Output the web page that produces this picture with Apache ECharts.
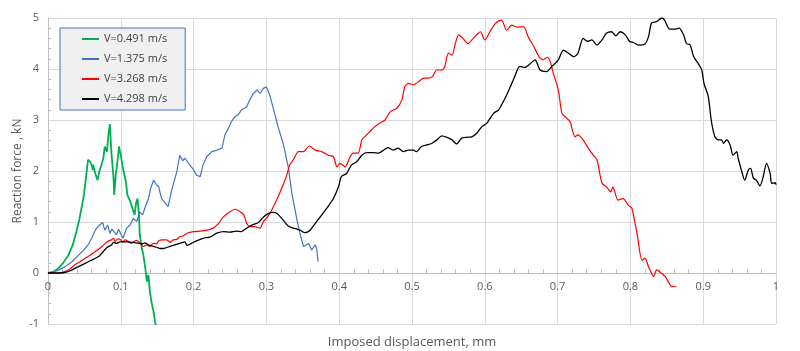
<!DOCTYPE html>
<html>
<head>
<meta charset="utf-8">
<script src="https://cdn.jsdelivr.net/npm/echarts@6/dist/echarts.min.js"></script>
<style>
  html, body { margin: 0; padding: 0; background: #fff; }
  #chart { width: 800px; height: 351px; }
</style>
</head>
<body>
<div id="chart"></div>
<script>
// series names (legend)
const seriesNames = ['V=0.491 m/s', 'V=1.375 m/s', 'V=3.268 m/s', 'V=4.298 m/s'];

// [displacement mm, force kN]
const v0491 = [[0,0],[0.007,0.02],[0.014,0.09],[0.021,0.2],[0.028,0.35],[0.034,0.55],[0.039,0.81],[0.043,1.05],[0.046,1.27],[0.049,1.5],[0.051,1.73],[0.053,1.98],[0.055,2.22],[0.058,2.18],[0.060,2.12],[0.0615,2.02],[0.062,2.12],[0.065,1.95],[0.068,1.82],[0.071,2.02],[0.073,2.1],[0.076,2.25],[0.078,2.48],[0.081,2.38],[0.083,2.71],[0.085,2.92],[0.087,2.38],[0.090,1.86],[0.091,1.53],[0.093,1.92],[0.096,2.25],[0.0975,2.48],[0.100,2.31],[0.103,2.05],[0.107,1.79],[0.109,1.53],[0.113,1.40],[0.116,1.27],[0.119,1.14],[0.121,1.37],[0.123,1.46],[0.125,1.14],[0.126,0.75],[0.129,0.48],[0.131,0.35],[0.133,0.16],[0.136,-0.17],[0.138,-0.04],[0.140,-0.37],[0.142,-0.56],[0.145,-0.76],[0.147,-0.95],[0.148,-1.02]];

const v1375 = [[0,0],[0.012,0.04],[0.023,0.12],[0.033,0.22],[0.042,0.35],[0.049,0.45],[0.055,0.55],[0.060,0.68],[0.065,0.84],[0.068,0.9],[0.071,0.94],[0.075,0.99],[0.078,0.84],[0.082,0.94],[0.085,0.78],[0.088,0.86],[0.090,0.84],[0.094,0.75],[0.097,0.86],[0.099,0.88],[0.103,0.68],[0.106,0.8],[0.108,0.88],[0.113,0.94],[0.117,1.07],[0.122,1.01],[0.126,1.20],[0.130,1.14],[0.133,1.27],[0.138,1.46],[0.141,1.66],[0.145,1.82],[0.149,1.73],[0.152,1.69],[0.156,1.46],[0.161,1.37],[0.165,1.30],[0.170,1.63],[0.177,1.99],[0.181,2.31],[0.185,2.2],[0.188,2.25],[0.193,2.15],[0.200,2.02],[0.204,1.92],[0.209,1.89],[0.213,2.12],[0.218,2.28],[0.225,2.38],[0.232,2.41],[0.239,2.45],[0.243,2.71],[0.248,2.84],[0.252,2.97],[0.257,3.07],[0.261,3.10],[0.266,3.20],[0.273,3.26],[0.277,3.39],[0.282,3.52],[0.287,3.59],[0.291,3.52],[0.296,3.62],[0.300,3.65],[0.305,3.47],[0.310,3.20],[0.316,2.87],[0.323,2.54],[0.330,2.08],[0.335,1.56],[0.342,1.04],[0.346,0.78],[0.351,0.52],[0.358,0.58],[0.362,0.45],[0.367,0.55],[0.369,0.48],[0.371,0.22]];

const v3268 = [[0,0],[0.012,0.0],[0.023,0.03],[0.030,0.08],[0.037,0.16],[0.044,0.22],[0.051,0.29],[0.058,0.35],[0.065,0.42],[0.070,0.47],[0.074,0.52],[0.081,0.61],[0.087,0.65],[0.090,0.68],[0.092,0.62],[0.095,0.66],[0.098,0.67],[0.103,0.61],[0.106,0.65],[0.110,0.62],[0.114,0.58],[0.117,0.60],[0.121,0.64],[0.124,0.62],[0.128,0.56],[0.131,0.52],[0.135,0.55],[0.140,0.52],[0.145,0.58],[0.149,0.57],[0.152,0.63],[0.157,0.65],[0.163,0.65],[0.168,0.6],[0.172,0.65],[0.177,0.66],[0.181,0.71],[0.186,0.73],[0.191,0.78],[0.200,0.81],[0.209,0.82],[0.218,0.84],[0.227,0.88],[0.234,0.97],[0.241,1.10],[0.250,1.20],[0.257,1.25],[0.264,1.20],[0.269,1.14],[0.273,0.97],[0.277,0.91],[0.284,0.91],[0.291,0.88],[0.296,1.01],[0.300,1.07],[0.305,1.17],[0.314,1.43],[0.321,1.66],[0.328,1.92],[0.332,2.12],[0.337,2.22],[0.344,2.38],[0.351,2.38],[0.359,2.49],[0.367,2.41],[0.376,2.38],[0.385,2.31],[0.392,2.28],[0.397,2.08],[0.401,2.15],[0.408,2.08],[0.415,2.28],[0.419,2.35],[0.426,2.35],[0.431,2.61],[0.435,2.67],[0.442,2.77],[0.449,2.87],[0.456,2.94],[0.463,3.00],[0.470,3.16],[0.479,3.23],[0.486,3.39],[0.490,3.65],[0.495,3.72],[0.502,3.69],[0.509,3.75],[0.516,3.82],[0.522,3.82],[0.528,3.85],[0.534,3.98],[0.541,3.98],[0.545,4.05],[0.550,4.31],[0.555,4.27],[0.559,4.47],[0.564,4.67],[0.570,4.60],[0.577,4.50],[0.584,4.60],[0.591,4.70],[0.594,4.73],[0.600,4.57],[0.607,4.73],[0.615,4.90],[0.623,4.96],[0.630,4.76],[0.637,4.86],[0.644,4.82],[0.653,4.83],[0.660,4.62],[0.667,4.45],[0.674,4.25],[0.680,4.18],[0.686,4.23],[0.690,4.14],[0.694,3.92],[0.701,3.59],[0.706,3.13],[0.713,3.03],[0.717,2.97],[0.724,2.67],[0.728,2.71],[0.735,2.61],[0.742,2.45],[0.749,2.31],[0.754,2.22],[0.761,1.76],[0.767,1.69],[0.773,1.59],[0.776,1.69],[0.783,1.43],[0.790,1.46],[0.797,1.33],[0.802,1.27],[0.809,0.78],[0.816,0.25],[0.820,0.29],[0.825,0.12],[0.832,-0.07],[0.836,0.06],[0.843,-0.01],[0.848,-0.07],[0.852,-0.17],[0.857,-0.27],[0.859,-0.26],[0.863,-0.27]];

const v4298 = [[0,0],[0.012,0.0],[0.023,0.01],[0.030,0.04],[0.037,0.09],[0.044,0.14],[0.051,0.19],[0.058,0.24],[0.065,0.29],[0.071,0.34],[0.074,0.39],[0.081,0.5],[0.087,0.55],[0.090,0.6],[0.094,0.58],[0.099,0.61],[0.108,0.61],[0.117,0.6],[0.126,0.58],[0.129,0.57],[0.133,0.59],[0.138,0.55],[0.145,0.52],[0.150,0.5],[0.154,0.48],[0.158,0.48],[0.163,0.50],[0.172,0.54],[0.181,0.58],[0.188,0.61],[0.191,0.54],[0.197,0.58],[0.204,0.63],[0.213,0.68],[0.223,0.71],[0.232,0.78],[0.241,0.81],[0.250,0.80],[0.259,0.82],[0.265,0.81],[0.273,0.88],[0.280,0.94],[0.289,0.99],[0.296,1.10],[0.303,1.17],[0.309,1.19],[0.314,1.17],[0.323,1.04],[0.330,0.92],[0.337,0.88],[0.346,0.84],[0.353,0.79],[0.360,0.84],[0.367,0.97],[0.374,1.10],[0.383,1.27],[0.392,1.46],[0.399,1.69],[0.403,1.89],[0.410,1.95],[0.417,2.12],[0.424,2.18],[0.431,2.31],[0.438,2.36],[0.447,2.36],[0.454,2.35],[0.461,2.41],[0.467,2.46],[0.474,2.41],[0.481,2.45],[0.488,2.38],[0.495,2.41],[0.502,2.41],[0.506,2.38],[0.513,2.48],[0.520,2.51],[0.527,2.54],[0.534,2.61],[0.541,2.69],[0.548,2.66],[0.555,2.61],[0.561,2.53],[0.568,2.64],[0.575,2.66],[0.582,2.67],[0.589,2.74],[0.596,2.87],[0.603,2.94],[0.612,3.13],[0.619,3.20],[0.628,3.43],[0.635,3.65],[0.641,3.85],[0.648,4.05],[0.655,4.03],[0.662,4.10],[0.669,4.18],[0.676,3.98],[0.685,3.95],[0.692,4.05],[0.701,4.18],[0.708,4.37],[0.715,4.31],[0.722,4.24],[0.728,4.31],[0.735,4.60],[0.741,4.54],[0.747,4.57],[0.754,4.47],[0.761,4.57],[0.767,4.70],[0.774,4.73],[0.780,4.65],[0.786,4.73],[0.793,4.67],[0.799,4.54],[0.804,4.52],[0.811,4.47],[0.820,4.49],[0.825,4.64],[0.829,4.90],[0.836,4.93],[0.843,5.00],[0.847,4.96],[0.854,4.78],[0.861,4.78],[0.867,4.80],[0.873,4.67],[0.877,4.50],[0.882,4.47],[0.887,4.24],[0.893,4.11],[0.898,3.98],[0.901,3.72],[0.907,3.46],[0.911,3.00],[0.916,2.67],[0.921,2.61],[0.925,2.61],[0.928,2.54],[0.932,2.61],[0.937,2.51],[0.941,2.31],[0.946,2.38],[0.948,2.25],[0.953,1.99],[0.957,1.82],[0.962,2.02],[0.965,2.05],[0.969,1.86],[0.973,1.82],[0.978,1.71],[0.982,1.86],[0.987,2.15],[0.992,1.95],[0.994,1.76],[0.999,1.77],[1.0,1.73]];

const seriesData = [v0491, v1375, v3268, v4298];
const colors = ['#00b050', '#4472c4', '#ff0000', '#000000'];
const widths = [1.8, 1.2, 1.2, 1.3];

const chart = echarts.init(document.getElementById('chart'));

const labelFont = { color: '#595959', fontSize: 11, fontFamily: 'Open Sans' };

// x axis sits on y=0, which is 1/6 of the plot height above the bottom
const plotHeight = 351 - 18 - 27;
const xAxisOffset = -plotHeight / 6;

const option = {
    animation: false,
    color: colors,
    grid: { left: 48, right: 24, top: 18, bottom: 27, outerBoundsMode: 'none' },
    legend: {
        orient: 'vertical',
        left: 60,
        top: 28,
        data: seriesNames,
        icon: 'rect',
        itemWidth: 17,
        itemHeight: 2,
        itemGap: 6,
        padding: [4, 18, 4, 22],
        backgroundColor: '#f0f0f0',
        borderColor: '#4472c4',
        borderWidth: 1,
        borderRadius: 0,
        textStyle: { color: '#404040', fontSize: 11, fontFamily: 'Open Sans', lineHeight: 14 }
    },
    xAxis: {
        type: 'value',
        min: 0,
        max: 1,
        interval: 0.1,
        offset: xAxisOffset,
        name: 'Imposed displacement, mm',
        nameLocation: 'middle',
        nameGap: 63,
        nameMoveOverlap: false,
        nameTextStyle: { color: '#595959', fontSize: 13, fontFamily: 'Open Sans' },
        axisLine: { onZero: false, lineStyle: { color: '#bfbfbf', width: 1 } },
        axisTick: { show: false, inside: true },
        minorTick: { show: true, splitNumber: 5, length: 4, lineStyle: { color: '#bfbfbf' } },
        axisLabel: Object.assign({ margin: 8, formatter: v => String(+v.toFixed(1)) }, labelFont),
        splitLine: { show: true, lineStyle: { color: '#d9d9d9', width: 1 } }
    },
    yAxis: {
        type: 'value',
        min: -1,
        max: 5,
        interval: 1,
        name: 'Reaction force , kN',
        nameLocation: 'middle',
        nameGap: 24,
        nameMoveOverlap: false,
        nameTextStyle: { color: '#595959', fontSize: 12, fontFamily: 'Open Sans' },
        axisLine: { show: true, onZero: false, lineStyle: { color: '#bfbfbf', width: 1 } },
        axisTick: { show: false, inside: true },
        minorTick: { show: true, splitNumber: 5, length: 3, lineStyle: { color: '#bfbfbf' } },
        axisLabel: Object.assign({ margin: 9 }, labelFont),
        splitLine: { show: true, lineStyle: { color: '#d9d9d9', width: 1 } }
    },
    series: seriesData.map((d, i) => ({
        name: seriesNames[i],
        type: 'line',
        data: d,
        showSymbol: false,
        symbol: 'none',
        smooth: i >= 2 ? 0.25 : false,
        lineStyle: { color: colors[i], width: widths[i] },
        z: 2 + i
    }))
};

chart.setOption(option);
</script>
</body>
</html>
